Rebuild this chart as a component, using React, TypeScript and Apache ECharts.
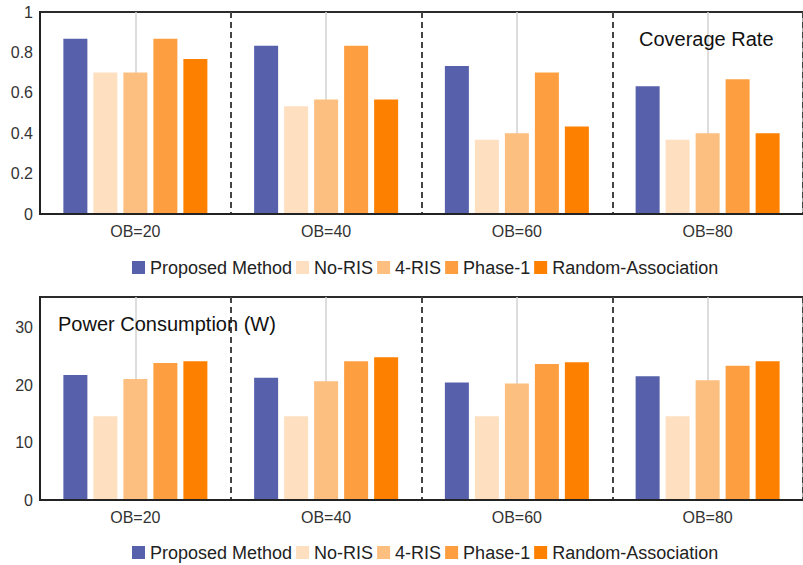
import React, { useEffect, useRef } from "react";
import * as echarts from "echarts";

const categories = ["OB=20", "OB=40", "OB=60", "OB=80"];
const seriesNames = ["Proposed Method", "No-RIS", "4-RIS", "Phase-1", "Random-Association"];
const colors = ["#5660AB", "#FEDFC0", "#FDBF7F", "#FD9F40", "#FE8000"];

const coverageProposed = [0.867, 0.833, 0.733, 0.633];
const coverageNoRIS = [0.7, 0.533, 0.367, 0.367];
const coverage4RIS = [0.7, 0.567, 0.4, 0.4];
const coveragePhase1 = [0.867, 0.833, 0.7, 0.667];
const coverageRandom = [0.767, 0.567, 0.433, 0.4];

const powerProposed = [21.8, 21.3, 20.5, 21.6];
const powerNoRIS = [14.6, 14.6, 14.6, 14.6];
const power4RIS = [21.1, 20.7, 20.3, 20.9];
const powerPhase1 = [23.9, 24.2, 23.7, 23.4];
const powerRandom = [24.2, 24.9, 24.0, 24.2];

const coverageTicks = [0, 0.2, 0.4, 0.6, 0.8, 1];
const powerTicks = [0, 10, 20, 30];

const coverageData = [coverageProposed, coverageNoRIS, coverage4RIS, coveragePhase1, coverageRandom];
const powerData = [powerProposed, powerNoRIS, power4RIS, powerPhase1, powerRandom];

// half-categories used only to place the light centre guide lines
const halfCategories = categories.flatMap((c) => [c + "-L", c + "-R"]);

const FONT = "'Liberation Sans', Arial, Helvetica, sans-serif";

export default function App() {
  const ref = useRef<HTMLDivElement>(null);
  useEffect(() => {
    document.body.style.margin = "0";
    if (!ref.current) return;
    const chart = echarts.init(ref.current, null, { renderer: "svg" });

    const catAxis = (gridIndex: number) => ({
      type: "category",
      gridIndex,
      data: categories,
      axisLine: { show: true, lineStyle: { color: "#222", width: 2 } },
      axisTick: { show: false },
      axisLabel: { fontSize: 16, color: "#333", margin: 9, fontFamily: FONT },
      splitLine: { show: true, lineStyle: { color: "#444", width: 2, type: [6, 4] } },
      z: 3,
    });
    const centerAxis = (gridIndex: number) => ({
      type: "category",
      gridIndex,
      data: halfCategories,
      axisLine: { show: false },
      axisTick: { show: false },
      axisLabel: { show: false },
      splitLine: {
        show: true,
        interval: (index: number) => index % 2 === 1,
        lineStyle: { color: "#d2d2d2", width: 1.5 },
      },
    });
    const valAxis = (gridIndex: number, max: number, interval: number, ticks: number[]) => ({
      type: "value",
      gridIndex,
      min: ticks[0],
      max,
      interval,
      axisLine: { show: true, onZero: false, lineStyle: { color: "#222", width: 2 } },
      axisTick: { show: false },
      splitLine: { show: false },
      axisLabel: {
        fontSize: 16,
        color: "#333",
        margin: 7,
        fontFamily: FONT,
        showMaxLabel: max === ticks[ticks.length - 1],
        formatter: (v: number) => (ticks.some((t) => Math.abs(t - v) < 1e-9) ? String(v) : ""),
      },
      z: 4,
    });

    const makeSeries = (data: number[][], xAxisIndex: number, yAxisIndex: number) =>
      data.map((vals, i) => ({
        type: "bar",
        name: seriesNames[i],
        xAxisIndex,
        yAxisIndex,
        data: vals,
        barWidth: 24,
        barGap: "25%",
        itemStyle: { color: colors[i] },
        z: 2,
      }));

    const legend = (top: number) => ({
      data: seriesNames,
      left: 132,
      top,
      padding: 0,
      icon: "rect",
      itemWidth: 13,
      itemHeight: 13,
      itemGap: 4,
      textStyle: { fontSize: 18, color: "#222", fontFamily: FONT },
      selectedMode: false,
    });

    chart.setOption({
      animation: false,
      textStyle: { fontFamily: FONT },
      grid: [
        { left: 40, top: 12, width: 772, height: 202, show: true, borderColor: "#2b2b2b", borderWidth: 2, backgroundColor: "transparent" },
        { left: 40, top: 297, width: 772, height: 203, show: true, borderColor: "#2b2b2b", borderWidth: 2, backgroundColor: "transparent" },
      ],
      xAxis: [catAxis(0), centerAxis(0), catAxis(1), centerAxis(1)],
      yAxis: [valAxis(0, 1, 0.2, coverageTicks), valAxis(1, 35.4, 10, powerTicks)],
      legend: [legend(258.5), legend(543.5)],
      graphic: [
        {
          type: "text",
          x: 639,
          y: 39,
          z: 10,
          style: { text: "Coverage Rate", fontSize: 20, fill: "#111", fontFamily: FONT, verticalAlign: "middle" },
        },
        {
          type: "text",
          x: 58,
          y: 324,
          z: 10,
          style: { text: "Power Consumption (W)", fontSize: 20, fill: "#111", fontFamily: FONT, verticalAlign: "middle" },
        },
      ],
      series: [...makeSeries(coverageData, 0, 0), ...makeSeries(powerData, 2, 1)],
    });
    return () => chart.dispose();
  }, []);
  return <div ref={ref} style={{ width: 803, height: 565 }} />;
}
